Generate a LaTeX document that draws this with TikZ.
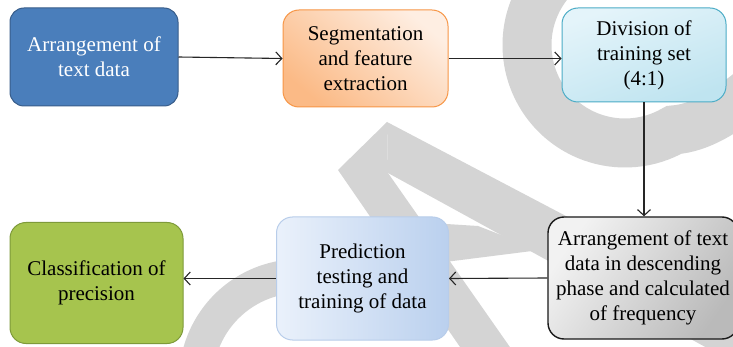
\documentclass[tikz,border=0pt]{standalone}
\usepackage{fontspec}
\setmainfont{Liberation Serif}
\usetikzlibrary{arrows.meta}
\definecolor{wm}{HTML}{D4D4D4}
\definecolor{bluefill}{HTML}{4A7EBB}
\definecolor{blueline}{HTML}{385D8A}
\definecolor{orangeline}{HTML}{F79646}
\definecolor{orangedark}{HTML}{FBBA86}
\definecolor{orangelight}{HTML}{FEEEE2}
\definecolor{cyanline}{HTML}{4BACC6}
\definecolor{cyanlight}{HTML}{E4F4FA}
\definecolor{cyandark}{HTML}{BFE4F0}
\definecolor{greenfill}{HTML}{A6C44E}
\definecolor{greenline}{HTML}{7E9A3A}
\definecolor{predleft}{HTML}{EAF1FB}
\definecolor{predright}{HTML}{BAD0EE}
\definecolor{predline}{HTML}{B8CDEA}
\tikzset{
  box/.style={rectangle, rounded corners=16pt, align=center, inner sep=0pt,
    line width=1pt, font=\fontsize{21}{25}\selectfont},
  arr/.style={draw=black!85, line width=1.1pt,
    -{Straight Barb[length=6pt,width=13pt,line width=1.1pt]}},
  wmstroke/.style={draw=wm, line cap=butt}
}
\begin{document}
\begin{tikzpicture}[x=1pt,y=-1pt]
\useasboundingbox (0,0) rectangle (733,347);
\clip (0,0) rectangle (733,347);
\fill[white] (0,0) rectangle (733,347);
% watermark
\draw[wmstroke, line width=49pt] (625,45) ++(260:98) arc[start angle=260, end angle=60, radius=98]
  .. controls (700,128) and (725,112) .. (750,92);
\fill[wm] (387,122) -- (760,318) -- (760,377) -- (388,173) -- cycle;
\fill[wm] (338,170) -- (387,122) -- (388,173) -- (519,360) -- (469,360) -- cycle;
\fill[wm] (415,222) -- (478,226) -- (540,250) -- (445,262) -- cycle;
\draw[wmstroke, line width=34pt] (300,380) ++(192:104) arc[start angle=192, end angle=300, radius=104];
% nodes
\node[box, rounded corners=14pt, minimum width=168pt, minimum height=98pt,
  draw=blueline, fill=bluefill, text=white] (b1) at (94,57) {Arrangement of\\text data};
\node[box, minimum width=165pt, minimum height=97pt, draw=orangeline,
  top color=orangelight, bottom color=orangedark, shading angle=-40] (b2) at (365.5,58.5)
  {Segmentation\\and feature\\extraction};
\node[box, minimum width=164pt, minimum height=94pt, draw=cyanline,
  top color=cyanlight, bottom color=cyandark, shading angle=20] (b3) at (644,55)
  {Division of\\training set\\(4:1)};
\node[box, minimum width=190pt, minimum height=122pt, draw=black!90, line width=1.4pt,
  top color=white!95!black, bottom color=black!27, shading angle=55] (b4) at (643,278)
  {Arrangement of text\\data in descending\\phase and calculated\\of frequency};
\node[box, minimum width=172pt, minimum height=123pt, draw=predline,
  left color=predleft, right color=predright] (b5) at (362.5,278.5)
  {Prediction\\testing and\\training of data};
\node[box, minimum width=173pt, minimum height=121pt, draw=greenline, fill=greenfill] (b6) at (96.5,283)
  {Classification of\\precision};
% connectors
\draw[arr] (b1.east) -- (b2.west);
\draw[arr] (b2.east) -- (b2.east -| b3.west);
\draw[arr] (b3.south) -- (b3.south |- b4.north);
\draw[arr] (b4.west) -- (b5.east);
\draw[arr] (b5.west) -- (b5.west -| b6.east);
\end{tikzpicture}
\end{document}
